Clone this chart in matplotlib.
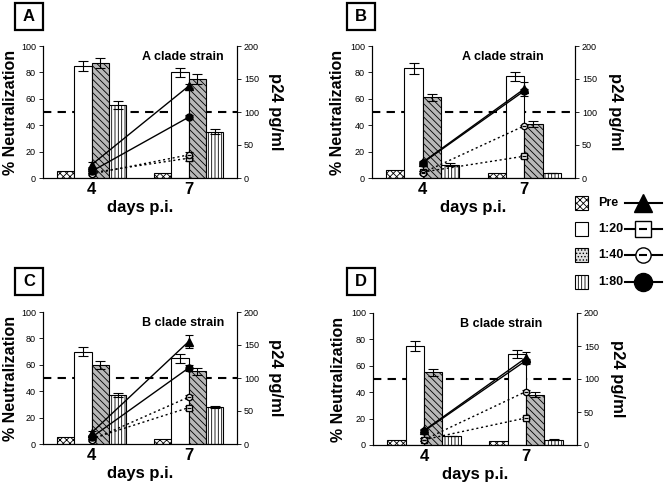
import matplotlib
matplotlib.use("Agg")
import matplotlib.pyplot as plt
from matplotlib.patches import Rectangle
from matplotlib.lines import Line2D
import numpy as np

plt.rcParams["font.family"] = ["Liberation Sans", "DejaVu Sans"]
plt.rcParams["hatch.linewidth"] = 0.6

days = ["4", "7"]
dilutions = ["Pre", "1:20", "1:40", "1:80"]
panel_labels = ["A", "B", "C", "D"]
strains = ["A clade strain", "A clade strain", "B clade strain", "B clade strain"]

# % neutralization bars: [panel][dilution][day]
neut = [
    [[5, 4], [85, 80], [87, 75], [55, 35]],
    [[6, 4], [83, 77], [61, 41], [10, 4]],
    [[5, 4], [70, 65], [60, 55], [37, 28]],
    [[4, 3], [75, 69], [55, 38], [7, 4]],
]
neut_err = [
    [[0, 0], [4, 3.5], [4, 3.5], [3, 2]],
    [[0, 0], [4, 3.5], [3, 2], [1, 0]],
    [[0, 0], [3.5, 3.5], [3, 2.5], [1.5, 1]],
    [[0, 0], [4, 3], [2.5, 2], [0, 0.5]],
]
# p24 pg/ml lines: [panel][dilution][day]
p24 = [
    [[20, 139], [8, 30], [6, 35], [10, 92]],
    [[24, 135], [9, 33], [8, 79], [23, 132]],
    [[17, 155], [8, 55], [6, 71], [10, 115]],
    [[22, 132], [8, 41], [8, 81], [21, 128]],
]
p24_err = [
    [[4, 3], [2, 4], [2, 4], [2, 3]],
    [[2, 10], [2, 2], [2, 2], [2, 3]],
    [[3, 10], [2, 3], [2, 3], [2, 4]],
    [[2, 9], [2, 2], [2, 2], [2, 3]],
]

bar_styles = [
    dict(facecolor="white", hatch="xxxxx"),
    dict(facecolor="white", hatch=None),
    dict(facecolor="#b8b8b8", hatch="\\\\\\\\\\"),
    dict(facecolor="white", hatch="|||||"),
]
line_styles = [
    dict(marker="^", mfc="black", ls="-", ms=5.5),
    dict(marker="s", mfc="white", ls=(0, (1.5, 2)), ms=4.5),
    dict(marker="o", mfc="white", ls=(0, (1.5, 2)), ms=4.5),
    dict(marker="o", mfc="black", ls="-", ms=5),
]

fig = plt.figure(figsize=(6.64, 4.82), dpi=100)
W, H = 664.0, 482.0
axes_px = [(43, 46, 237, 178), (372, 46, 575, 178), (43, 312, 237, 444), (373, 313, 577, 445)]
label_px = [(15, 3), (347, 3), (15, 268), (347, 268)]
strain_x = [0.72, 0.645, 0.72, 0.63]

centers = np.array([0.5, 1.5])
bw = 0.18
offsets = [-1.5 * bw, -0.5 * bw, 0.5 * bw, 1.5 * bw]

for p in range(4):
    l, t, r, b = axes_px[p]
    ax = fig.add_axes([l / W, 1 - b / H, (r - l) / W, (b - t) / H])
    for d in range(4):
        ax.bar(centers + offsets[d], neut[p][d], width=bw, edgecolor="black",
               linewidth=0.8, **bar_styles[d], zorder=2)
        err = np.array(neut_err[p][d])
        if err.any():
            ax.errorbar(centers + offsets[d], neut[p][d], yerr=err, fmt="none",
                        ecolor="black", elinewidth=0.8, capsize=3.5, capthick=0.8, zorder=3)
    ax.axhline(50, color="black", lw=1.5, ls=(0, (4, 3)), zorder=1)
    ax.set_xlim(0, 2)
    ax.set_ylim(0, 100)
    ax.set_yticks([0, 20, 40, 60, 80, 100])
    ax.set_xticks(centers)
    ax.set_xticklabels(days, fontsize=12, fontweight="bold")
    ax.tick_params(axis="x", length=0, pad=3)
    ax.tick_params(axis="y", labelsize=6.5, length=3, width=0.6, pad=2)
    ax.spines["top"].set_visible(False)
    for s in ("left", "bottom", "right"):
        ax.spines[s].set_linewidth(0.8)
    ax.set_xlabel("days p.i.", fontsize=12, fontweight="bold", labelpad=2)
    ax.set_ylabel("% Neutralization", fontsize=11.5, fontweight="bold", va="center")
    ax.yaxis.set_label_coords(-0.17, 0.5)
    ax.text(strain_x[p], 0.92, strains[p], transform=ax.transAxes, ha="center",
            va="center", fontsize=9, fontweight="bold")

    ax2 = ax.twinx()
    ax2.set_ylim(0, 200)
    ax2.set_yticks([0, 50, 100, 150, 200])
    ax2.tick_params(axis="y", labelsize=6.5, length=3, width=0.6, pad=2)
    ax2.spines["top"].set_visible(False)
    ax2.spines["right"].set_linewidth(0.8)
    ax2.set_ylabel("p24 pg/ml", fontsize=12, fontweight="bold", rotation=270, va="center")
    ax2.yaxis.set_label_coords(1.2, 0.5)
    for d in [1, 2, 0, 3]:
        st = line_styles[d]
        ax2.errorbar(centers, p24[p][d], yerr=p24_err[p][d], color="black", lw=1,
                     ls=st["ls"], marker=st["marker"], mfc=st["mfc"], mec="black",
                     ms=st["ms"], elinewidth=0.8, capsize=3, capthick=0.8, zorder=4)
        if d in (1, 2):
            ax2.plot(centers, p24[p][d], ls="none", marker="_", color="black",
                     ms=2.5, mew=1, zorder=5)

    lx, ly = label_px[p]
    fig.patches.append(Rectangle((lx / W, 1 - (ly + 27) / H), 28 / W, 27 / H,
                                 transform=fig.transFigure, facecolor="white",
                                 edgecolor="black", linewidth=1.6))
    fig.text((lx + 14) / W, 1 - (ly + 13.5) / H, panel_labels[p], ha="center",
             va="center", fontsize=12, fontweight="bold")

# legend, drawn by hand at the right side
legend_patch = [
    dict(facecolor="white", hatch="xxxxx"),
    dict(facecolor="white", hatch=None),
    dict(facecolor="#e0e0e0", hatch="....."),
    dict(facecolor="white", hatch="|||||"),
]
legend_marker = [("^", "black", 13), ("s", "white", 11),
                 ("o", "white", 11), ("o", "black", 13)]
rows_y = [203, 229, 255, 282]
for i, name in enumerate(dilutions):
    yc = rows_y[i]
    fig.patches.append(Rectangle((575 / W, 1 - (yc + 7) / H), 13 / W, 14 / H,
                                 transform=fig.transFigure, edgecolor="black",
                                 linewidth=0.8, **legend_patch[i]))
    fig.text(598 / W, 1 - yc / H, name, ha="left", va="center", fontsize=9,
             fontweight="bold")
    m, fc, ms = legend_marker[i]
    fig.add_artist(Line2D([625 / W, 662 / W], [1 - yc / H, 1 - yc / H],
                          transform=fig.transFigure, color="black", lw=1.5))
    fig.add_artist(Line2D([643 / W], [1 - yc / H], transform=fig.transFigure,
                          color="black", marker=m, mfc=fc, mec="black", ms=ms,
                          mew=1, ls="none"))
    if i in (1, 2):
        fig.add_artist(Line2D([643 / W], [1 - yc / H], transform=fig.transFigure,
                              color="black", marker="_", ms=6, mew=1.5, ls="none"))

fig.savefig("out.png", dpi=100)
